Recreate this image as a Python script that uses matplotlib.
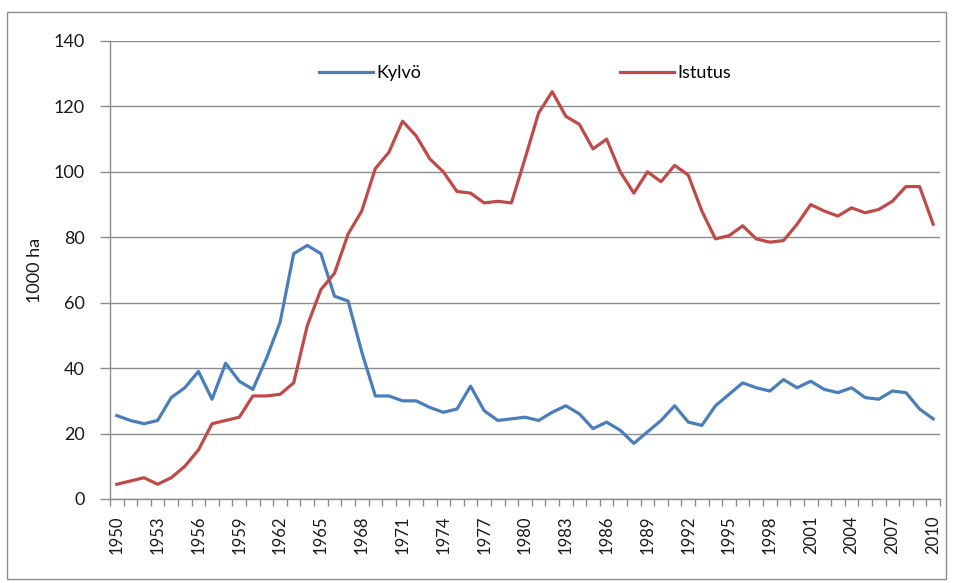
import matplotlib
matplotlib.use("Agg")
import matplotlib.pyplot as plt
from matplotlib.patches import Rectangle
import numpy as np

years = list(range(1950, 2011))
kylvo = [25.5, 24, 23, 24, 31, 34, 39, 30.5, 41.5, 36,
         33.5, 43, 54, 75, 77.5, 75, 62, 60.5, 45, 31.5,
         31.5, 30, 30, 28, 26.5, 27.5, 34.5, 27, 24, 24.5,
         25, 24, 26.5, 28.5, 26, 21.5, 23.5, 21, 17, 20.5,
         24, 28.5, 23.5, 22.5, 28.5, 32, 35.5, 34, 33, 36.5,
         34, 36, 33.5, 32.5, 34, 31, 30.5, 33, 32.5, 27.5,
         24.5]
istutus = [4.5, 5.5, 6.5, 4.5, 6.5, 10, 15, 23, 24, 25,
           31.5, 31.5, 32, 35.5, 53, 64, 69, 81, 88, 101,
           106, 115.5, 111, 104, 100, 94, 93.5, 90.5, 91, 90.5,
           104, 118, 124.5, 117, 114.5, 107, 110, 100, 93.5, 100,
           97, 102, 99, 88, 79.5, 80.5, 83.5, 79.5, 78.5, 79,
           84, 90, 88, 86.5, 89, 87.5, 88.5, 91, 95.5, 95.5,
           84]
series_names = ["Kylvö", "Istutus"]
y_label = "1000 ha"
y_ticks = [0, 20, 40, 60, 80, 100, 120, 140]
label_years = years[::3]

plt.rcParams['font.family'] = ['Lato', 'DejaVu Sans']

fig = plt.figure(figsize=(9.54, 5.83), dpi=100)
ax = fig.add_axes([0.1153, 0.1441, 0.9853 - 0.1153, 0.9297 - 0.1441])

ax.plot(years, kylvo, color='#4A7EBB', lw=2.3, label=series_names[0], solid_joinstyle='round')
ax.plot(years, istutus, color='#BE4B48', lw=2.3, label=series_names[1], solid_joinstyle='round')

ax.set_xlim(1949.5, 2010.5)
ax.set_ylim(0, 140)
ax.set_yticks(y_ticks)
ax.set_yticklabels([str(v) for v in y_ticks], fontsize=13, color='#1a1a1a')
ax.yaxis.grid(True, color='#8c8c8c', lw=1.0)
ax.set_axisbelow(True)

ax.set_xticks(label_years)
ax.set_xticklabels([str(y) for y in label_years], rotation=90, fontsize=12, color='#1a1a1a')
ax.tick_params(axis='x', which='major', length=0, pad=12)
ax.set_xticks([y - 0.5 for y in years] + [2010.5], minor=True)
ax.tick_params(axis='x', which='minor', length=5, color='#8c8c8c', width=1)
ax.tick_params(axis='y', which='major', length=7, color='#8c8c8c', width=1, pad=11)

for s in ['top', 'right']:
    ax.spines[s].set_visible(False)
for s in ['left', 'bottom']:
    ax.spines[s].set_color('#8c8c8c')
    ax.spines[s].set_linewidth(1.0)

ax.set_ylabel(y_label, fontsize=13, color='#1a1a1a', labelpad=8)

ax.legend(loc='center', bbox_to_anchor=(0.5, 1 - (73 - 41) / (499 - 41)), ncol=2,
          frameon=False, fontsize=13, handlelength=3.0, handletextpad=0.2, columnspacing=11.0,
          borderpad=0, borderaxespad=0)

fig.patches.append(Rectangle((7 / 954, 4 / 583), 939 / 954, 567 / 583, transform=fig.transFigure,
                             fill=False, edgecolor='#8c8c8c', lw=1.0))

fig.savefig("out.png", dpi=100)
